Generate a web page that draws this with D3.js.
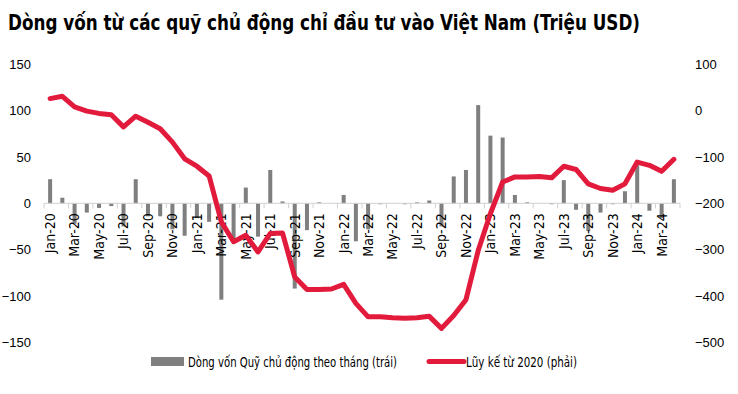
<!DOCTYPE html>
<html>
<head>
<meta charset="utf-8">
<script src="https://cdn.jsdelivr.net/npm/d3@7"></script>
<style>
  body { margin: 0; background: #fff; }
  svg { display: block; }
  .narrow { font-family: "Liberation Sans Narrow", "Arial Narrow", "DejaVu Sans Condensed", sans-serif; }
  .num { font-family: "Liberation Sans", Arial, sans-serif; font-size: 13px; fill: #000; }
</style>
</head>
<body>
<svg id="chart" width="738" height="394"></svg>
<script>
var months = ["Jan-20","Feb-20","Mar-20","Apr-20","May-20","Jun-20","Jul-20","Aug-20","Sep-20","Oct-20","Nov-20","Dec-20",
  "Jan-21","Feb-21","Mar-21","Apr-21","May-21","Jun-21","Jul-21","Aug-21","Sep-21","Oct-21","Nov-21","Dec-21",
  "Jan-22","Feb-22","Mar-22","Apr-22","May-22","Jun-22","Jul-22","Aug-22","Sep-22","Oct-22","Nov-22","Dec-22",
  "Jan-23","Feb-23","Mar-23","Apr-23","May-23","Jun-23","Jul-23","Aug-23","Sep-23","Oct-23","Nov-23","Dec-23",
  "Jan-24","Feb-24","Mar-24","Apr-24"];

// monthly flow (left axis)
var monthlyFlow = [26, 6, -22, -10, -5, -3, -25, 26, -14, -14, -28, -35,
  -16, -20, -104, -41, 17, -36, 36, 2, -92, -29, 1, 0,
  9, -41, -28, -1, 0, -1, 1, 3, -25, 29, 36, 106,
  73, 71, 9, 1, 0, -1, 25, -7, -30, -10, -1, 13,
  41, -8, -16, 26];

// cumulative since 2020 (right axis)
var cumulative = [26, 31, 8, -1, -6, -9, -35, -12, -25, -39, -68, -104,
  -120, -141, -240, -283, -269, -305, -265, -264, -359, -386, -386, -385,
  -375, -416, -445, -445, -447, -448, -447, -444, -470, -442, -408, -302,
  -222, -154, -143, -143, -142, -145, -120, -127, -158, -168, -172, -158,
  -111, -118, -131, -105];

var leftTicks = [150, 100, 50, 0, -50, -100, -150];
var rightTicks = [100, 0, -100, -200, -300, -400, -500];

var title = "Dòng vốn từ các quỹ chủ động chỉ đầu tư vào Việt Nam (Triệu USD)";
var legendBar = "Dòng vốn Quỹ chủ động theo tháng (trái)";
var legendLine = "Lũy kế từ 2020 (phải)";

var barColor = "#7f7f7f";
var lineColor = "#e21b3c";

var svg = d3.select("#chart");

var x = d3.scaleBand().domain(months).range([44, 680]);
var yL = d3.scaleLinear().domain([-150, 150]).range([342.3, 64.3]);
var yR = d3.scaleLinear().domain([-500, 100]).range([342.3, 64.3]);

// title
svg.append("text")
  .attr("class", "narrow")
  .attr("x", 8).attr("y", 30)
  .attr("font-size", 22).attr("font-weight", "bold")
  .attr("textLength", 632).attr("lengthAdjust", "spacingAndGlyphs")
  .text(title);

// left axis
var leftAxis = svg.append("g")
  .attr("transform", "translate(31,0)")
  .call(d3.axisLeft(yL).tickValues(leftTicks).tickSize(0).tickPadding(0));
leftAxis.select(".domain").remove();
leftAxis.selectAll("text").attr("class", "num").attr("font-size", null).attr("font-family", null);

// right axis
var rightAxis = svg.append("g")
  .attr("transform", "translate(695,0)")
  .call(d3.axisRight(yR).tickValues(rightTicks).tickSize(0).tickPadding(0));
rightAxis.select(".domain").remove();
rightAxis.selectAll("text").attr("class", "num").attr("font-size", null).attr("font-family", null);

// bars
var bw = 4;
svg.append("g").selectAll("rect")
  .data(monthlyFlow)
  .join("rect")
  .attr("x", function(d, i) { return x(months[i]) + x.bandwidth() / 2 - bw / 2; })
  .attr("y", function(d) { return Math.min(yL(d), yL(0)); })
  .attr("width", bw)
  .attr("height", function(d) { return Math.abs(yL(d) - yL(0)); })
  .attr("fill", barColor);

// x axis line and tick marks (every 2 months at band edges)
var y0 = yL(0);
svg.append("line")
  .attr("x1", x.range()[0]).attr("x2", x.range()[1])
  .attr("y1", y0).attr("y2", y0)
  .attr("stroke", "#d0d0d0").attr("stroke-width", 1);
var edges = months.filter(function(m, i) { return i % 2 === 0; }).map(function(m) { return x(m); });
edges.push(x.range()[1]);
svg.append("g").selectAll("line")
  .data(edges)
  .join("line")
  .attr("x1", function(d) { return d; }).attr("x2", function(d) { return d; })
  .attr("y1", y0).attr("y2", y0 + 5)
  .attr("stroke", "#d0d0d0").attr("stroke-width", 1);

// x labels
svg.append("g").selectAll("text")
  .data(months.filter(function(m, i) { return i % 2 === 0; }))
  .join("text")
  .attr("class", "narrow")
  .attr("font-size", 14)
  .attr("text-anchor", "end")
  .attr("dy", "0.35em")
  .attr("transform", function(d) {
    return "translate(" + (x(d) + x.bandwidth() / 2) + "," + (y0 + 10) + ") rotate(-90)";
  })
  .text(function(d) { return d; });

// cumulative line
var line = d3.line()
  .x(function(d, i) { return x(months[i]) + x.bandwidth() / 2; })
  .y(function(d) { return yR(d); });
svg.append("path")
  .datum(cumulative)
  .attr("d", line)
  .attr("fill", "none")
  .attr("stroke", lineColor)
  .attr("stroke-width", 5)
  .attr("stroke-linejoin", "round")
  .attr("stroke-linecap", "round");

// legend
svg.append("rect")
  .attr("x", 151).attr("y", 357).attr("width", 33).attr("height", 9)
  .attr("fill", barColor);
svg.append("text")
  .attr("class", "narrow")
  .attr("x", 188).attr("y", 367)
  .attr("font-size", 14)
  .attr("textLength", 209).attr("lengthAdjust", "spacingAndGlyphs")
  .text(legendBar);
svg.append("line")
  .attr("x1", 429).attr("x2", 464).attr("y1", 361.5).attr("y2", 361.5)
  .attr("stroke", lineColor).attr("stroke-width", 5).attr("stroke-linecap", "round");
svg.append("text")
  .attr("class", "narrow")
  .attr("x", 466).attr("y", 367)
  .attr("font-size", 14)
  .attr("textLength", 111).attr("lengthAdjust", "spacingAndGlyphs")
  .text(legendLine);
</script>
</body>
</html>
